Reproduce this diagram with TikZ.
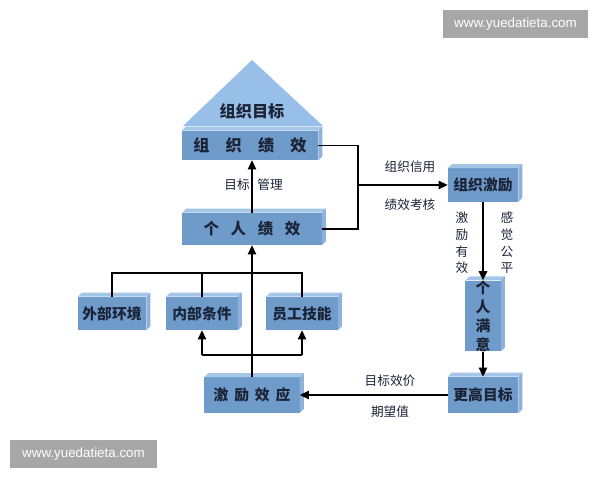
\documentclass[tikz,border=0pt]{standalone}
\usepackage{fontspec}
\setmainfont{Noto Sans CJK SC}
\newfontfamily\wmfont{Liberation Sans}
\usetikzlibrary{arrows.meta,positioning}
\definecolor{bxfront}{HTML}{6F9BCB}
\definecolor{bxtop}{HTML}{A6C6E8}
\definecolor{bxside}{HTML}{8CB1DA}
\definecolor{bxtext}{HTML}{1B2436}
\definecolor{tri}{HTML}{98BFE8}
\definecolor{wmgray}{HTML}{A7A7A7}
\newcommand{\boxdepth}[1]{%
  \fill[bxtop] (#1.north west) -- ([shift={(4,-4)}]#1.north west) -- ([shift={(4,-4)}]#1.north east) -- (#1.north east) -- cycle;
  \fill[bxside] (#1.north east) -- ([shift={(4,-4)}]#1.north east) -- ([shift={(4,-4)}]#1.south east) -- (#1.south east) -- cycle;}

\begin{document}
\begin{tikzpicture}[x=0.025cm,y=-0.025cm,
  font=\bfseries\fontsize{10.5}{12}\selectfont,
  blk/.style={fill=bxfront,text=bxtext,inner sep=0pt,align=center},
  lbl/.style={font=\mdseries\fontsize{9}{12}\selectfont,text=bxtext,inner sep=1pt,align=center},
  fl/.style={-{Triangle[length=2.3mm,width=2.1mm]},line width=1.2pt},
  ln/.style={line width=1.2pt},
  wm/.style={fill=wmgray,text=white,font=\wmfont\mdseries\fontsize{9.5}{11}\selectfont,minimum height=0.7cm,inner sep=0pt}]
\useasboundingbox (0,0) rectangle (600,480);
% goal triangle
\fill[tri] (183,126) -- (252,60) -- (323,126) -- cycle;
\node[font=\bfseries\fontsize{11.5}{12}\selectfont,text=bxtext] (goal) at (252,111) {组织目标};
% boxes
\node[blk,minimum width=3.4cm,minimum height=0.725cm,font=\bfseries\fontsize{11.5}{12}\selectfont] (orgperf) at (250,145.5) {组\quad 织\quad 绩\quad 效};
\node[blk,minimum width=3.475cm,minimum height=0.8cm,font=\bfseries\fontsize{11}{12}\selectfont] (indperf) at (252,229) {个\hspace{0.75em}人\hspace{0.75em}绩\hspace{0.75em}效};
\node[blk,minimum width=1.75cm,minimum height=0.825cm] (orginc) at (483,185) {组织激励};
\node[blk,minimum width=0.875cm,minimum height=1.7cm,font=\bfseries\fontsize{10.5}{13.5}\selectfont] (indsat) at (483,316) {个\\人\\满\\意};
\node[blk,minimum width=1.75cm,minimum height=0.9cm] (higher) at (483,395) {更高目标};
\node[blk,minimum width=2.375cm,minimum height=0.875cm] (effect) at (252,395) {激\hspace{0.4em}励\hspace{0.4em}效\hspace{0.4em}应};
\node[blk,minimum width=1.7cm,minimum height=0.825cm] (extenv) at (112,313.5) {外部环境};
\node[blk,minimum width=1.775cm,minimum height=0.825cm] (intcond) at (202,313.5) {内部条件};
\node[blk,minimum width=1.775cm,minimum height=0.825cm] (skill) at (302,313.5) {员工技能};
\foreach \b in {orgperf,indperf,orginc,indsat,higher,effect,extenv,intcond,skill} {\boxdepth{\b}}
% connectors
\coordinate (split) at (358,185);
\coordinate (bl) at (202,355);
\coordinate (br) at (302,355);
\coordinate (bus) at (252,273);
\draw[fl] (indperf.north) -- (indperf.north |- orgperf.south);
\draw[ln] (orgperf.east) -| (split) |- (indperf.east);
\draw[fl] (split) -- (orginc.west);
\draw[fl] (orginc.south) -- (indsat.north);
\draw[fl] (indsat.south) -- (higher.north);
\draw[fl] (higher.west) -- (effect.east);
\draw[fl] (effect.north) -- (indperf.south);
\draw[ln] (bl) -- (br);
\draw[fl] (bl) -- (intcond.south);
\draw[fl] (br) -- (skill.south);
\draw[ln] (extenv.north) |- (bus) -| (skill.north);
\draw[ln] (intcond.north) -- (intcond.north |- bus);
% labels
\node[lbl] (mgmtl) at (237,185) {目标};
\node[lbl] (mgmtr) at (270,185) {管理};
\node[lbl] (credit) at (410,167) {组织信用};
\node[lbl] (appraise) at (410,205) {绩效考核};
\node[lbl,font=\mdseries\fontsize{9}{11.9}\selectfont] (valid) at (462,243) {激\\励\\有\\效};
\node[lbl,font=\mdseries\fontsize{9}{11.9}\selectfont] (fair) at (507,243) {感\\觉\\公\\平};
\node[lbl] (valence) at (390,381) {目标效价};
\node[lbl] (expect) at (390,412) {期望值};
% watermarks
\node[wm,minimum width=3.625cm] (wmtop) at (515.5,24) {www.yuedatieta.com};
\node[wm,minimum width=3.675cm] (wmbot) at (83.5,454) {www.yuedatieta.com};
\end{tikzpicture}
\end{document}
